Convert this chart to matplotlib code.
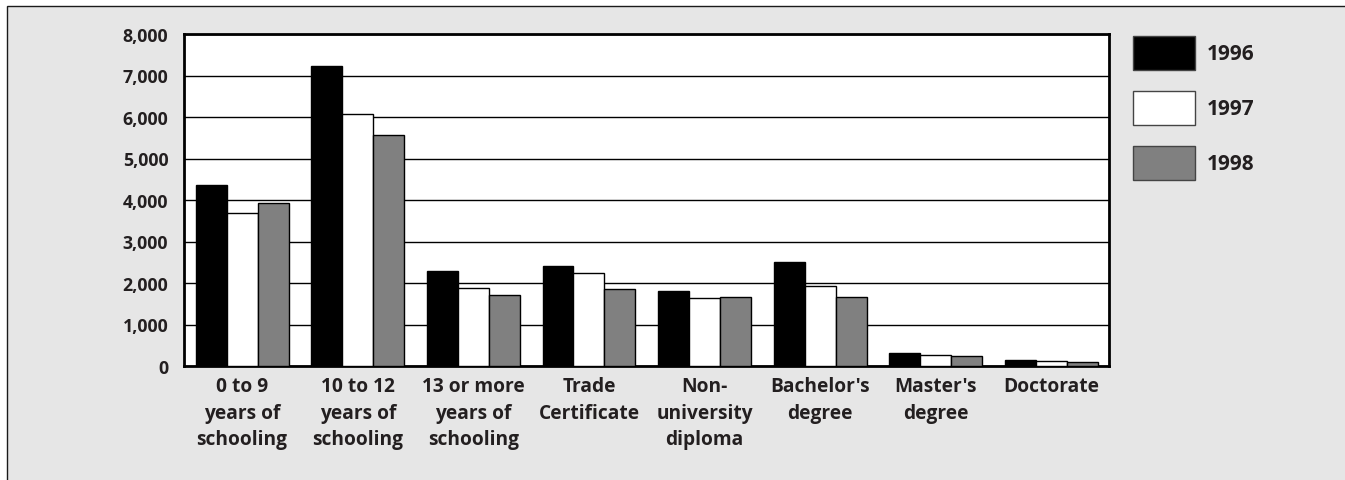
import matplotlib
matplotlib.use("Agg")
import matplotlib.pyplot as plt
import numpy as np
from matplotlib.patches import Rectangle

categories = ["0 to 9\nyears of\nschooling", "10 to 12\nyears of\nschooling",
              "13 or more\nyears of\nschooling", "Trade\nCertificate",
              "Non-\nuniversity\ndiploma", "Bachelor's\ndegree",
              "Master's\ndegree", "Doctorate"]
years = ["1996", "1997", "1998"]
v1996 = [4370, 7240, 2280, 2400, 1815, 2500, 313, 137]
v1997 = [3680, 6070, 1890, 2250, 1630, 1920, 273, 120]
v1998 = [3930, 5570, 1720, 1850, 1655, 1665, 241, 104]
yticks = [0, 1000, 2000, 3000, 4000, 5000, 6000, 7000, 8000]
ytick_labels = ["0", "1,000", "2,000", "3,000", "4,000", "5,000", "6,000", "7,000", "8,000"]

colors = ["#000000", "#ffffff", "#808080"]
txtc = "#231f20"
plt.rcParams['font.family'] = ['Open Sans', 'DejaVu Sans']

W, H = 1345, 481
fig = plt.figure(figsize=(W/100, H/100), dpi=100)
fig.patch.set_facecolor("white")
bg = Rectangle((6.5/W, -10/H), (W + 10)/W, (H - 7 + 10)/H, transform=fig.transFigure,
               facecolor="#e6e6e6", edgecolor="#1a1a1a", linewidth=1.0, zorder=-10)
fig.patches.append(bg)

ax = fig.add_axes([184.3/W, 1-367/H, (1109.3-184.3)/W, (367-35)/H])
ax.set_zorder(1)
ax.set_facecolor("white")
x = np.arange(len(categories))
bw = 0.268
series = [v1996, v1997, v1998]
handles = []
for i, (vals, c) in enumerate(zip(series, colors)):
    b = ax.bar(x + (i-1)*bw, vals, width=bw, color=c, edgecolor="black", linewidth=1.0,
               zorder=3, label=years[i])
    handles.append(b)

ax.set_xlim(-0.5, len(categories)-0.5)
ax.set_ylim(0, 8000)
ax.set_yticks(yticks)
ax.set_yticklabels(ytick_labels, fontsize=12.8, fontweight='bold', color=txtc)
ax.set_xticks(x)
ax.set_xticklabels(categories, fontsize=13.8, fontweight='bold', color=txtc, linespacing=1.42)
ax.tick_params(axis='both', length=0)
ax.tick_params(axis='y', pad=11.5)
ax.tick_params(axis='x', pad=7.5)
ax.yaxis.grid(True, color="black", linewidth=1.0, zorder=0)
ax.set_axisbelow(True)
for s in ax.spines.values():
    s.set_linewidth(2.0)
    s.set_color("black")

fs = 20.8  # px
leg = fig.legend(handles=handles, labels=years, loc='upper left',
                 bbox_to_anchor=(1133/W, 1-36.7/H), bbox_transform=fig.transFigure,
                 frameon=False, prop={'weight': 'bold', 'size': 15},
                 handlelength=62/fs, handleheight=2.14, handletextpad=12/fs,
                 labelspacing=1.0, borderpad=0, borderaxespad=0, labelcolor=txtc)
leg.set_zorder(2)
for p in leg.get_patches():
    p.set_edgecolor("#444444")
    p.set_linewidth(1.0)

fig.savefig("out.png", dpi=100, facecolor=fig.get_facecolor())
